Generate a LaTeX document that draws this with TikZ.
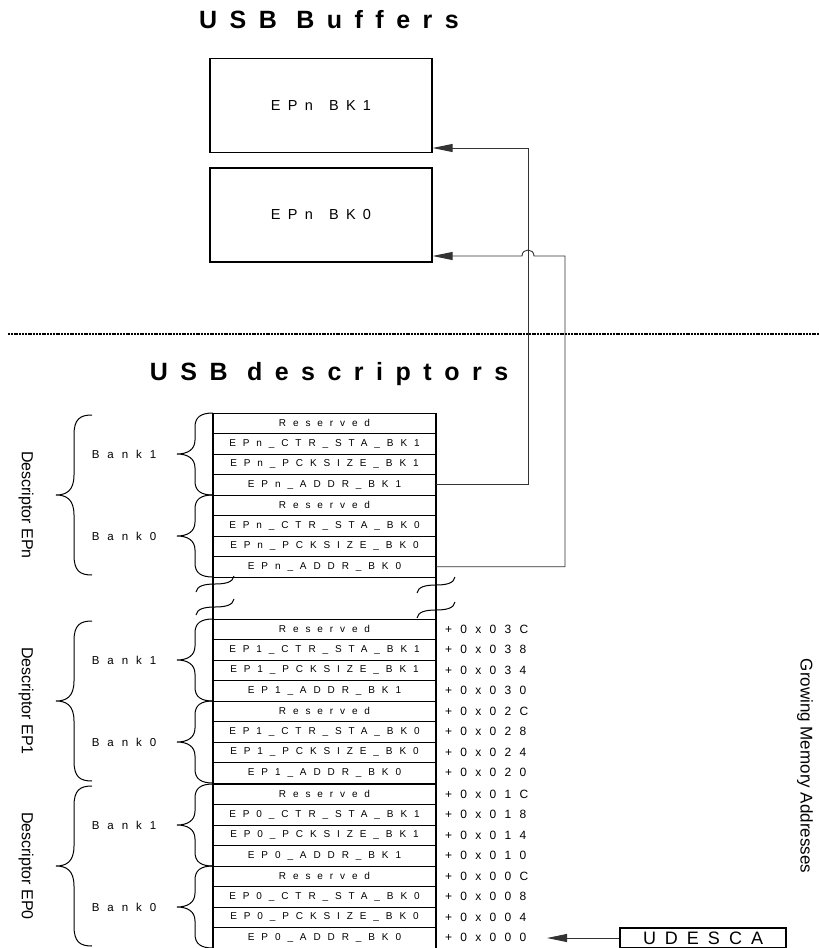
\documentclass[tikz,border=0pt]{standalone}
\usepackage{fontspec}
\setmainfont{Liberation Sans}
\newfontfamily\spacedfont[LetterSpace=69]{Liberation Sans}
\newfontfamily\headfont[LetterSpace=50]{Liberation Sans}
\usetikzlibrary{arrows.meta}
\definecolor{wiregray}{HTML}{333333}

% curly brace opening to the right: tips at x=#1, from y=#2 to y=#3,
% #4 is how long the curls run along the spine
\newcommand\curlybrace[4]{%
  \draw[bracepen] ({#1},{#2}) .. controls ({#1-12},{#2}) and ({#1-18},{#2+4}) .. ({#1-18},{#2+#4})
    -- ({#1-18},{(#2+#3)/2-#4}) .. controls ({#1-18},{(#2+#3)/2-4}) and ({#1-26},{(#2+#3)/2}) .. ({#1-36},{(#2+#3)/2})
    .. controls ({#1-26},{(#2+#3)/2}) and ({#1-18},{(#2+#3)/2+4}) .. ({#1-18},{(#2+#3)/2+#4})
    -- ({#1-18},{#3-#4}) .. controls ({#1-18},{#3-4}) and ({#1-12},{#3}) .. ({#1},{#3});}
% break mark of the table, lower left end at (#1,#2)
\newcommand\breakmark[2]{%
  \draw[bracepen] ({#1},{#2}) .. controls ({#1+1},{#2-6}) and ({#1+8},{#2-8}) .. ({#1+19},{#2-8})
    .. controls ({#1+30},{#2-8}) and ({#1+37},{#2-10}) .. ({#1+38},{#2-16});}

\tikzset{
  bufbox/.style={draw, line width=1.2pt, minimum width=222pt, minimum height=94pt,
    font=\headfont\fontsize{14.5}{16}\selectfont},
  rowbox/.style={draw, line width=0.8pt, minimum width=223pt, minimum height=20.5pt,
    inner sep=0pt, outer sep=0pt, font=\spacedfont\fontsize{10}{12}\selectfont},
  addrlabel/.style={anchor=west, inner sep=0pt, font=\spacedfont\fontsize{12}{14}\selectfont},
  banklabel/.style={inner sep=0pt, font=\spacedfont\fontsize{11.5}{13}\selectfont},
  desclabel/.style={rotate=-90, inner sep=0pt, font=\fontsize{16}{18}\selectfont},
  heading/.style={anchor=base, inner sep=0pt, font=\headfont\bfseries\fontsize{25}{29}\selectfont},
  bracepen/.style={line width=1pt},
  tableedge/.style={line width=1.4pt},
  link/.style={draw=wiregray, line width=0.9pt},
  tip/.style={-{Triangle[length=20pt,width=8pt]}},
  divider/.style={line width=1.2pt, dash pattern=on 2pt off 0.8pt},
}

\begin{document}
\begin{tikzpicture}[x=1pt, y=-1pt]
  \useasboundingbox (0,0) rectangle (819,948);

  % buffers in RAM
  \node[heading] (buftitle) at (329,28) {USB Buffers};
  \node[bufbox] (bk1) at (321,105.5) {EPn\hspace{5pt} BK1};
  \node[bufbox] (bk0) at (321,215) {EPn\hspace{5pt} BK0};

  \draw[divider] (8,334) -- (819,334);
  \node[heading] (desctitle) at (329,380) {USB descriptors};

  % descriptor table, three blocks of eight rows
  \foreach \blk/\ytop/\ep in {dn/413/n, d1/619/1, d0/784/0} {
    \foreach \lbl [count=\i] in {Reserved, EP\ep\_CTR\_STA\_BK1, EP\ep\_PCKSIZE\_BK1, EP\ep\_ADDR\_BK1,
                                 Reserved, EP\ep\_CTR\_STA\_BK0, EP\ep\_PCKSIZE\_BK0, EP\ep\_ADDR\_BK0}
      \node[rowbox] (\blk-\i) at (324.5,{\ytop+\i*20.5-10.25}) {\lbl};
  }
  \draw[tableedge] (dn-1.north west) -- (d0-8.south west);
  \draw[tableedge] (dn-1.north east) -- (d0-8.south east);
  \breakmark{196}{592}
  \breakmark{196}{615}
  \breakmark{417}{593}
  \breakmark{417}{618}

  % offsets from UDESCA
  \foreach \o [count=\i] in {03C,038,034,030,02C,028,024,020}
    \node[addrlabel] (d1-a\i) at (445,0 |- d1-\i) {+0x\o};
  \foreach \o [count=\i] in {01C,018,014,010,00C,008,004,000}
    \node[addrlabel] (d0-a\i) at (445,0 |- d0-\i) {+0x\o};

  % bank and descriptor braces
  \foreach \blk/\ytop in {dn/413, d1/619, d0/784} {
    \curlybrace{213}{\ytop}{\ytop+82}{14}
    \curlybrace{213}{\ytop+82}{\ytop+164}{14}
    \curlybrace{92}{\ytop+2}{\ytop+162}{20}
    \node[banklabel] (\blk-bank1) at (124,\ytop+41) {Bank1};
    \node[banklabel] (\blk-bank0) at (124,\ytop+123) {Bank0};
  }
  \node[desclabel] (descn) at (26,505) {Descriptor EPn};
  \node[desclabel] (desc1) at (26,701) {Descriptor EP1};
  \node[desclabel] (desc0) at (26,866) {Descriptor EP0};
  \node[desclabel, font=\fontsize{17}{19}\selectfont] (growing) at (805,766) {Growing Memory Addresses};

  % buffer pointers
  \coordinate (riseA) at (528,148);
  \coordinate (riseB) at (565,256);
  \coordinate (hopR) at (534,256);
  \coordinate (hopL) at (522,256);
  \draw[link, tip] (dn-4.east) -| (riseA) -- (bk1.east |- riseA);
  \draw[link, tip] (dn-8.east) -| (riseB) -- (hopR) .. controls +(0,-8) and +(0,-8) .. (hopL)
    -- (bk0.east |- riseB);

  % base address register
  \node[draw, line width=1.2pt, minimum width=166pt, minimum height=20pt,
        font=\headfont\fontsize{18}{20}\selectfont] (udesca) at (703,938) {UDESCA};
  \coordinate (basetip) at (547,938);
  \draw[link, tip] (udesca.west) -- (basetip);
\end{tikzpicture}
\end{document}
